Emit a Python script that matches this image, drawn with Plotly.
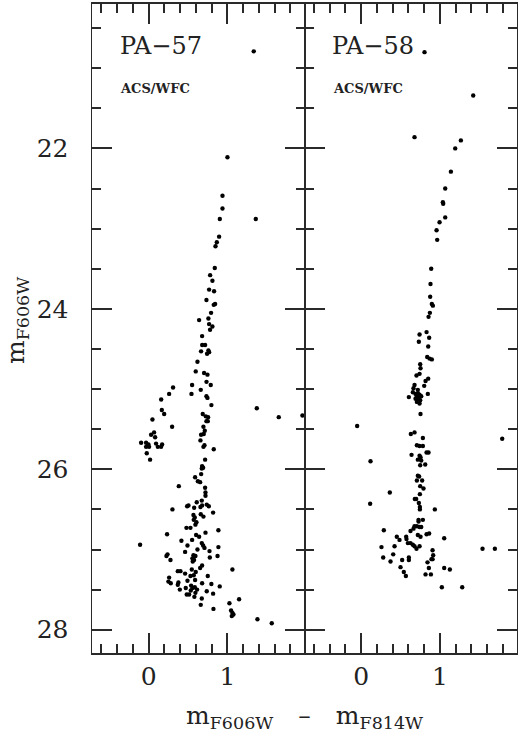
import plotly.graph_objects as go

# PA-57 colour (F606W-F814W) and magnitude (F606W)
pa57_color = [1.335, 1.001, 0.938, 0.938, 0.904, 1.361, 0.895, 0.866, 0.849, 0.840, 0.781, 0.810, 0.768,
    0.831, 0.734, 0.827, 0.844, 0.793, 0.641, 0.759, 0.768, 0.810, 0.780, 0.679, 0.680, 0.717, 0.666, 0.759,
    0.742, 0.768, 0.620, 0.598, 0.704, 0.747, 0.735, 0.789, 0.552, 0.662, 0.310, 0.544, 0.260, 0.734, 0.747,
    0.159, 0.797, 0.167, 0.197, 1.374, 0.687, 0.726, 0.755, 0.734, 0.751, 0.048, 1.653, 1.954, 0.298, 0.696,
    0.713, 0.700, 0.666, 0.069, 0.031, 0.082, -0.096, -0.033, -0.003, -0.033, 0.005, 0.094, 0.171, 0.158,
    0.116, -0.024, 0.018, 0.658, 0.696, 0.709, 0.827, 0.717, 0.679, 0.692, 0.675,
    0.667, 0.590, 0.625, 0.654, 0.383, 0.717, 0.722, 0.722, 0.675, 0.611, 0.489, 0.506, 0.578, 0.658, 0.679,
    0.738, 0.764, 0.302, 0.819, 0.569, 0.586, 0.573, 0.662, 0.696, 0.607, 0.594, 0.480, 0.531, 0.234, 0.886,
    0.722, 0.603, 0.641, 0.552, 0.416, 0.675, 0.692, -0.109, 0.493, 0.620, 0.886, 0.709, 0.773, 0.463, 0.239,
    0.226, 0.569, 0.594, 0.556, 0.577, 0.560, 0.875, 0.277, 0.777, 0.679, 0.654, 1.064, 0.548, 0.370, 0.404,
    0.463, 0.598, 0.573, 0.751, 0.531, 0.260, 0.251, 0.281, 0.378, 0.370, 0.493, 0.590, 0.679, 0.797, 0.903,
    0.539, 0.556, 0.586, 0.535, 0.471, 0.396, 0.615, 0.594, 0.738, 0.484, 0.514, 0.581, 0.819, 1.149, 0.675,
    0.662, 1.026, 0.823, 1.047, 1.064, 1.077, 1.056, 1.382, 1.564]
pa57_mag = [20.79, 22.11, 22.59, 22.75, 22.88, 22.88, 23.10, 23.17, 23.22, 23.49, 23.58, 23.65, 23.76,
    23.78, 23.89, 23.95, 23.94, 24.05, 24.14, 24.12, 24.19, 24.22, 24.26, 24.34, 24.45, 24.45, 24.53, 24.52,
    24.56, 24.54, 24.66, 24.78, 24.80, 24.82, 24.91, 24.95, 24.95, 25.01, 24.98, 25.06, 25.06, 25.09, 25.11,
    25.13, 25.20, 25.26, 25.31, 25.24, 25.31, 25.34, 25.35, 25.40, 25.40, 25.38, 25.35, 25.33, 25.47, 25.47,
    25.52, 25.56, 25.57, 25.54, 25.57, 25.60, 25.67, 25.67, 25.69, 25.72, 25.72, 25.68, 25.69, 25.72,
    25.72, 25.80, 25.88, 25.64, 25.72, 25.70, 25.75, 25.88, 25.96, 25.98, 25.99,
    26.06, 26.10, 26.15, 26.16, 26.21, 26.23, 26.29, 26.33, 26.39, 26.41, 26.46, 26.45, 26.48, 26.47, 26.45,
    26.44, 26.46, 26.50, 26.54, 26.57, 26.60, 26.63, 26.56, 26.59, 26.66, 26.69, 26.73, 26.73, 26.81, 26.76,
    26.79, 26.82, 26.84, 26.88, 26.89, 26.92, 26.95, 26.94, 26.95, 27.00, 26.97, 26.98, 27.02, 27.03, 27.06,
    27.08, 27.07, 27.08, 27.11, 27.13, 27.15, 27.08, 27.13, 27.10, 27.20, 27.23, 27.25, 27.25, 27.27, 27.27,
    27.30, 27.28, 27.32, 27.33, 27.33, 27.35, 27.40, 27.42, 27.41, 27.44, 27.39, 27.38, 27.42, 27.43, 27.46,
    27.45, 27.48, 27.47, 27.51, 27.48, 27.50, 27.50, 27.54, 27.52, 27.56, 27.56, 27.59, 27.55, 27.62, 27.61,
    27.69, 27.67, 27.74, 27.76, 27.79, 27.81, 27.83, 27.87, 27.92]

# PA-58
pa58_color = [0.805, 1.424, 0.678, 1.267, 1.195, 1.140, 1.068, 1.038, 1.042, 1.068, 0.996, 0.958, 0.966,
    0.890, 0.881, 0.877, 0.898, 0.911, 0.873, 0.856, 0.831, 0.742, 0.864, 0.733, 0.852, 0.839, 0.869, 0.898,
    0.750, 0.754, 0.703, 0.742, 0.852, 0.818, 0.801, 0.678, 0.665, 0.606, 0.847, 0.657, 0.691, 0.720, 0.742,
    0.708, 0.733, 0.763, 0.691, 0.720, 0.750, 0.708, 0.742, 0.720, 0.754, -0.051, 0.631, 0.678, 0.784, 1.792,
    0.708, 0.742, 0.784,
    0.640, 0.119, 0.742, 0.754, 0.831, 0.856, 0.720, 0.763, 0.814, 0.750, 0.720, 0.737, 0.708, 0.775, 0.750,
    0.792, 0.364, 0.746, 0.682, 0.699, 0.733, 0.114, 0.746, 0.746, 0.936, 0.729, 0.729, 0.784, 0.678, 0.708,
    0.742, 0.763, 0.665, 0.288, 0.627, 0.831, 0.864, 0.720, 0.754, 0.453, 0.487, 0.572, 0.576, 1.055, 0.593,
    0.627, 0.657, 0.678, 0.703, 0.742, 0.258, 0.424, 1.542, 1.699, 0.907, 0.915, 0.894, 0.907, 0.407, 0.280,
    0.606, 0.606, 0.521, 0.373, 0.843, 0.860, 0.500, 0.542, 0.568, 1.055, 1.127, 0.818, 0.886, 1.025, 1.284]
pa58_mag = [20.80, 21.34, 21.86, 21.90, 22.00, 22.29, 22.50, 22.67, 22.69, 22.86, 22.92, 23.02, 23.14,
    23.50, 23.69, 23.85, 23.94, 23.96, 24.05, 24.10, 24.29, 24.32, 24.36, 24.41, 24.47, 24.60, 24.62, 24.63,
    24.69, 24.74, 24.83, 24.81, 24.87, 24.90, 24.96, 24.95, 24.99, 25.10, 25.06, 25.04, 25.06, 25.05, 25.07,
    25.09, 25.10, 25.09, 25.12, 25.13, 25.14, 25.16, 25.18, 25.01, 25.31, 25.46, 25.56, 25.54, 25.61, 25.62,
    25.70, 25.71, 25.71,
    25.82, 25.90, 25.83, 25.85, 25.79, 25.79, 25.88, 25.89, 25.94, 25.95, 26.08, 26.09, 26.14, 26.14, 26.21,
    26.24, 26.29, 26.31, 26.37, 26.37, 26.42, 26.43, 26.47, 26.50, 26.50, 26.63, 26.65, 26.63, 26.71, 26.71,
    26.72, 26.72, 26.74, 26.76, 26.77, 26.81, 26.80, 26.82, 26.84, 26.84, 26.88, 26.84, 26.87, 26.86, 26.92,
    26.92, 26.94, 26.96, 26.99, 26.96, 26.97, 26.96, 26.99, 26.99, 27.01, 27.07, 27.12, 27.12, 27.06, 27.10,
    27.10, 27.13, 27.13, 27.15, 27.16, 27.23, 27.22, 27.28, 27.33, 27.23, 27.25, 27.31, 27.31, 27.47, 27.47]

panel_names = ["PA\u221257", "PA\u221258"]
instrument = "ACS/WFC"
x_title = "m<sub>F606W</sub>\u2003\u2013\u2003m<sub>F814W</sub>"
y_title = "m<sub>F606W</sub>"

XR = [-0.72, 1.98]
YR = [28.29, 20.2]
LINE = "#2a2a2a"
SERIF = "DejaVu Serif"

fig = go.Figure()
mk = dict(color="black", size=4.4)
fig.add_trace(go.Scatter(x=pa57_color, y=pa57_mag, mode="markers", marker=mk,
                         xaxis="x", yaxis="y"))
fig.add_trace(go.Scatter(x=pa58_color, y=pa58_mag, mode="markers", marker=mk,
                         xaxis="x2", yaxis="y2"))

def xax(domain, anchor):
    return dict(domain=domain, anchor=anchor, range=XR, dtick=1, tick0=0,
                ticks="inside", ticklen=20, tickwidth=1.5, tickcolor=LINE,
                minor=dict(dtick=0.2, tick0=0, ticks="inside", ticklen=9, tickwidth=1.5, tickcolor=LINE),
                showline=True, linecolor=LINE, linewidth=1.5, mirror="ticks",
                showgrid=False, zeroline=False)

def yax(anchor, labels, match=None):
    d = dict(anchor=anchor, domain=[0, 1], range=YR, dtick=2, tick0=0,
             ticks="inside", ticklen=20, tickwidth=1.5, tickcolor=LINE,
             minor=dict(dtick=0.5, tick0=0, ticks="inside", ticklen=9, tickwidth=1.5, tickcolor=LINE),
             showline=True, linecolor=LINE, linewidth=1, mirror="ticks",
             showgrid=False, zeroline=False, showticklabels=labels,
             ticksuffix="\u2002\u2009")
    if match:
        d["matches"] = match
    return d

annotations = []
for i, name in enumerate(panel_names):
    xs = "x" if i == 0 else "x2"
    ys = "y" if i == 0 else "y2"
    annotations.append(dict(text=name, xref=xs + " domain", yref=ys + " domain", x=0.122, y=0.935,
                            xanchor="left", yanchor="middle", showarrow=False,
                            font=dict(family=SERIF, size=24, color="#222")))
    annotations.append(dict(text="<b>" + instrument + "</b>", xref=xs + " domain", yref=ys + " domain",
                            x=0.124, y=0.870, xanchor="left", yanchor="middle", showarrow=False,
                            font=dict(family=SERIF, size=13, color="#222")))
annotations.append(dict(text=x_title, xref="paper", yref="paper", x=0.5, y=-0.098,
                        xanchor="center", yanchor="middle", showarrow=False,
                        font=dict(family=SERIF, size=25, color="#222")))
annotations.append(dict(text=y_title, xref="paper", yref="paper", x=-0.178, y=0.512,
                        xanchor="center", yanchor="middle", showarrow=False, textangle=-90,
                        font=dict(family=SERIF, size=25, color="#222")))

fig.update_layout(
    width=520, height=735,
    margin=dict(l=92, r=3, t=2, b=82),
    font=dict(family=SERIF, size=25, color="#222"),
    plot_bgcolor="white", showlegend=False, hovermode=False,
    xaxis=xax([0, 0.5], "y"),
    xaxis2=xax([0.5, 1], "y2"),
    yaxis=yax("x", True),
    yaxis2=yax("x2", False, "y"),
    annotations=annotations,
)

fig.write_html("out.html", config={"displayModeBar": False},
               post_script="document.body.style.margin='0';document.body.style.padding='0';")
